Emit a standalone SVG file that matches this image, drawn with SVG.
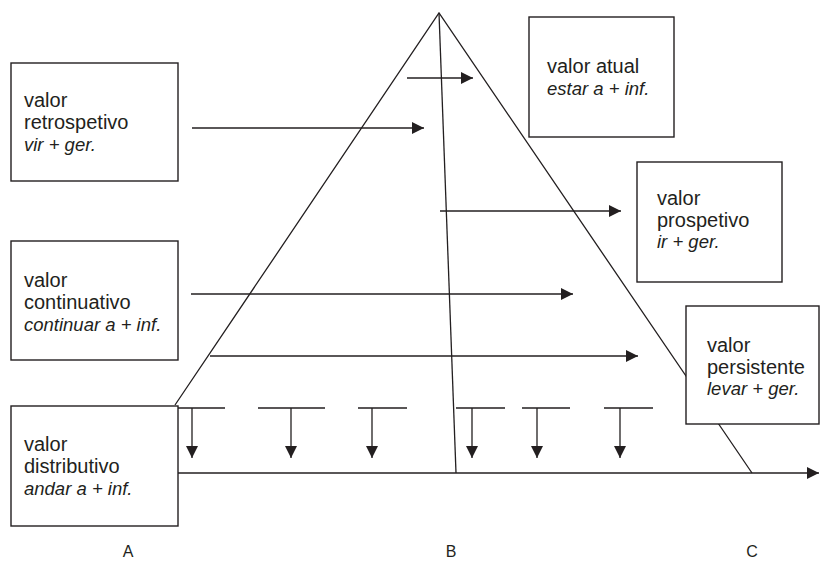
<svg xmlns="http://www.w3.org/2000/svg" width="824" height="564" viewBox="0 0 824 564">
<style>
.ln{stroke:#231f20;stroke-width:1.3;fill:none}
.ar{stroke:#231f20;stroke-width:1.3;fill:none;marker-end:url(#ah)}
.box{fill:#fff;stroke:#231f20;stroke-width:1.4}
text{font-family:"Liberation Sans",Arial,sans-serif;font-size:20px;fill:#231f20}
.it{font-style:italic;font-size:18.5px}
.lbl{font-size:16px}
</style>
<defs>
<marker id="ah" markerUnits="userSpaceOnUse" markerWidth="12" markerHeight="12" refX="12" refY="6" orient="auto">
<path d="M0,0 L12,6 L0,12 z" fill="#231f20"/>
</marker>
</defs>
<g id="pyramid">
<path class="ln" d="M175,405 L439,13 L752,473"/>
<path class="ln" d="M439,13 L456,473"/>
</g>
<g id="connectors">
<path class="ar" d="M178,473 H819"/>
<path class="ar" d="M407,78 H473"/>
<path class="ar" d="M192,128 H424"/>
<path class="ar" d="M440,211 H621"/>
<path class="ar" d="M191,294 H573"/>
<path class="ar" d="M210,356 H638"/>
<path class="ln" d="M178,408 H225 M258,408 H325 M358,408 H407 M456,408 H505 M522,408 H570 M604,408 H653"/>
<path class="ar" d="M192,408 V458"/>
<path class="ar" d="M291,408 V458"/>
<path class="ar" d="M372,408 V458"/>
<path class="ar" d="M472,408 V458"/>
<path class="ar" d="M537,408 V458"/>
<path class="ar" d="M620,408 V458"/>
</g>
<g id="retrospetivo">
<rect class="box" x="11" y="63" width="167" height="118"/>
<text x="24" y="107">valor</text>
<text x="24" y="129">retrospetivo</text>
<text x="24" y="151" class="it">vir + ger.</text>
</g>
<g id="atual">
<rect class="box" x="529" y="17" width="145" height="120"/>
<text x="547" y="73">valor atual</text>
<text x="547" y="95" class="it">estar a + inf.</text>
</g>
<g id="prospetivo">
<rect class="box" x="637" y="162" width="145" height="120"/>
<text x="657" y="205">valor</text>
<text x="657" y="227">prospetivo</text>
<text x="657" y="248" class="it">ir + ger.</text>
</g>
<g id="continuativo">
<rect class="box" x="11" y="241" width="167" height="119"/>
<text x="24" y="287">valor</text>
<text x="24" y="309">continuativo</text>
<text x="24" y="331" class="it">continuar a + inf.</text>
</g>
<g id="persistente">
<rect class="box" x="686" y="306" width="133" height="118"/>
<text x="707" y="352">valor</text>
<text x="707" y="374">persistente</text>
<text x="707" y="395" class="it">levar + ger.</text>
</g>
<g id="distributivo">
<rect class="box" x="11" y="406" width="167" height="120"/>
<text x="24" y="451">valor</text>
<text x="24" y="473">distributivo</text>
<text x="24" y="495" class="it">andar a + inf.</text>
</g>
<g id="labels">
<text class="lbl" x="128" y="557" text-anchor="middle">A</text>
<text class="lbl" x="451" y="557" text-anchor="middle">B</text>
<text class="lbl" x="752" y="557" text-anchor="middle">C</text>
</g>
</svg>
